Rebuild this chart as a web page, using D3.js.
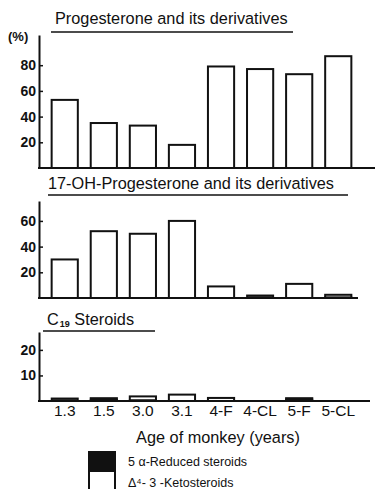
<!DOCTYPE html>
<html>
<head>
<meta charset="utf-8">
<script src="https://cdn.jsdelivr.net/npm/d3@7"></script>
<style>
  body { margin: 0; background: #fff; }
  svg { display: block; font-family: "Liberation Sans", Arial, sans-serif; }
</style>
</head>
<body>
<svg id="chart" width="375" height="489"></svg>
<script>
// data
var ages = ["1.3", "1.5", "3.0", "3.1", "4-F", "4-CL", "5-F", "5-CL"];

var progKeto    = [53, 35, 33, 18, 79, 77, 73, 87];
var progReduced = [0, 0, 0, 0, 0, 0, 0, 0];

var ohKeto    = [30, 52, 50, 60, 9, 0, 11, 2];
var ohReduced = [0, 0, 0, 0, 0, 2, 0, 0.5];

var c19Keto    = [0, 0.6, 1.5, 2.5, 1.2, 0, 0.5, 0];
var c19Reduced = [1, 0.5, 0.3, 0, 0, 0, 0.6, 0];

var progTicks = [20, 40, 60, 80];
var ohTicks = [20, 40, 60];
var c19Ticks = [10, 20];

var panels = [
  { title: "Progesterone and its derivatives", keto: progKeto, red: progReduced, ticks: progTicks,
    max: 103.5, base: 168, top: 35, lineEnd: 375, titleX: 55, titleY: 23.5, ulX1: 51, ulX2: 293, ulY: 32 },
  { title: "17-OH-Progesterone and its derivatives", keto: ohKeto, red: ohReduced, ticks: ohTicks,
    max: 75.5, base: 298, top: 201, lineEnd: 358, titleX: 48, titleY: 189, ulX1: 48, ulX2: 348, ulY: 195 },
  { title: "C19", keto: c19Keto, red: c19Reduced, ticks: c19Ticks,
    max: 27, base: 401, top: 332, lineEnd: 370, titleX: 47, titleY: 325, ulX1: 43, ulX2: 155, ulY: 331 }
];

var svg = d3.select("#chart");
var axisX = 39;

var x = d3.scaleBand()
  .domain(ages)
  .range([45, 358])
  .paddingInner(0.33)
  .paddingOuter(0.17);

panels.forEach(function(p, pi){
  var y = d3.scaleLinear().domain([0, p.max]).range([p.base, p.top]);
  var g = svg.append("g");

  // title + underline
  var t = g.append("text")
    .attr("x", p.titleX).attr("y", p.titleY)
    .attr("font-size", 16.3)
    .attr("fill", "#111");
  if(pi === 2){
    t.append("tspan").text("C");
    t.append("tspan").attr("font-size", 9).attr("font-weight", "bold").attr("dy", 2).attr("dx", 1).text("19");
    t.append("tspan").attr("dy", -2).text("  Steroids");
  } else {
    t.text(p.title);
  }
  g.append("line")
    .attr("x1", p.ulX1).attr("x2", p.ulX2)
    .attr("y1", p.ulY).attr("y2", p.ulY)
    .attr("stroke", "#111").attr("stroke-width", 1.5);

  // bars: reduced at the bottom (black), keto stacked on top (white)
  var rows = ages.map(function(a, i){ return { age: a, red: p.red[i], keto: p.keto[i] }; });

  g.selectAll("rect.red").data(rows.filter(function(d){ return d.red > 0; }))
    .enter().append("rect").attr("class", "red")
    .attr("x", function(d){ return x(d.age); })
    .attr("width", x.bandwidth())
    .attr("y", function(d){ return y(d.red); })
    .attr("height", function(d){ return y(0) - y(d.red); })
    .attr("fill", "#333").attr("stroke", "#111").attr("stroke-width", 1.8);

  g.selectAll("rect.keto").data(rows.filter(function(d){ return d.keto > 0; }))
    .enter().append("rect").attr("class", "keto")
    .attr("x", function(d){ return x(d.age); })
    .attr("width", x.bandwidth())
    .attr("y", function(d){ return y(d.red + d.keto); })
    .attr("height", function(d){ return y(d.red) - y(d.red + d.keto); })
    .attr("fill", "#fff").attr("stroke", "#111").attr("stroke-width", 2);

  // y axis
  var ax = g.append("g")
    .attr("transform", "translate(" + axisX + ",0)")
    .call(d3.axisLeft(y).tickValues(p.ticks).tickSizeInner(-4).tickSizeOuter(0).tickPadding(3));
  ax.select(".domain").attr("stroke", "#111").attr("stroke-width", 2);
  ax.selectAll(".tick line").attr("stroke", "#111").attr("stroke-width", 1.5);
  ax.selectAll(".tick text")
    .attr("font-size", 14).attr("font-weight", "bold")
    .attr("font-family", "Liberation Sans, Arial, sans-serif")
    .attr("fill", "#111");

  // baseline
  g.append("line")
    .attr("x1", axisX - 1).attr("x2", p.lineEnd)
    .attr("y1", p.base).attr("y2", p.base)
    .attr("stroke", "#111").attr("stroke-width", 2);

  if(pi === 0){
    g.append("text").attr("x", 8).attr("y", 41)
      .attr("font-size", 13).attr("font-weight", "bold").attr("fill", "#111")
      .text("(%)");
  }
});

// x labels under the last panel
var xa = svg.append("g")
  .attr("transform", "translate(0,405)")
  .call(d3.axisBottom(x).tickSize(0).tickPadding(0));
xa.select(".domain").remove();
xa.selectAll(".tick text")
  .attr("dy", "0.71em")
  .attr("font-size", 15.5)
  .attr("font-family", "Liberation Sans, Arial, sans-serif")
  .attr("fill", "#111");

svg.append("text")
  .attr("x", 218).attr("y", 443)
  .attr("text-anchor", "middle")
  .attr("font-size", 16.3).attr("fill", "#111")
  .text("Age of monkey (years)");

// legend
var legend = [
  { label: "5 \u03b1-Reduced steroids", fill: "#111" },
  { label: "\u0394\u2074- 3 -Ketosteroids", fill: "#fff" }
];
var lg = svg.append("g").attr("transform", "translate(89,452)");
lg.selectAll("rect").data(legend).enter().append("rect")
  .attr("x", 0).attr("y", function(d, i){ return i * 19; })
  .attr("width", 26).attr("height", 19)
  .attr("fill", function(d){ return d.fill; })
  .attr("stroke", "#111").attr("stroke-width", 2);
lg.selectAll("text").data(legend).enter().append("text")
  .attr("x", 39).attr("y", function(d, i){ return 14 + i * 21; })
  .attr("font-size", 12.5).attr("fill", "#111")
  .text(function(d){ return d.label; });
</script>
</body>
</html>
